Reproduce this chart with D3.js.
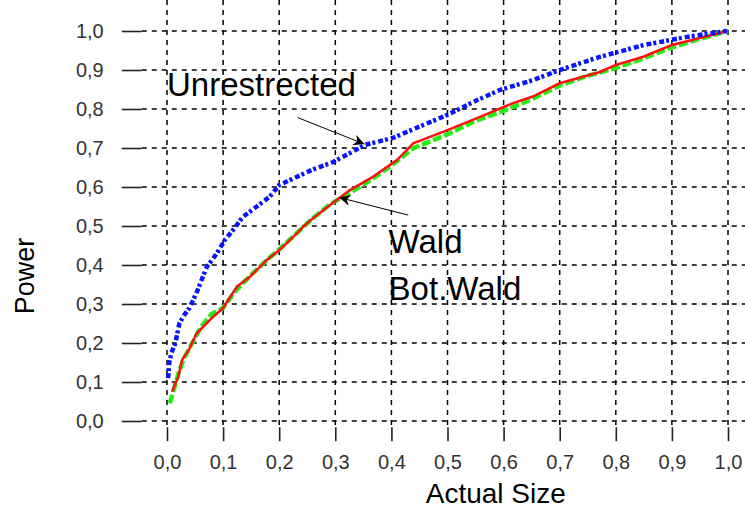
<!DOCTYPE html>
<html>
<head>
<meta charset="utf-8">
<script src="https://cdn.jsdelivr.net/npm/d3@7"></script>
<style>
body { margin: 0; background: #fff; }
text { font-family: "Liberation Sans", Arial, sans-serif; }
</style>
</head>
<body>
<div id="chart"></div>
<script>
// values
var ticks = [0, 0.1, 0.2, 0.3, 0.4, 0.5, 0.6, 0.7, 0.8, 0.9, 1.0];
var tickLabels = ["0,0", "0,1", "0,2", "0,3", "0,4", "0,5", "0,6", "0,7", "0,8", "0,9", "1,0"];

var unrestrictedX = [0.002, 0.004, 0.008, 0.015, 0.022, 0.03, 0.04, 0.053, 0.064, 0.071, 0.089, 0.103, 0.118, 0.135, 0.16, 0.183, 0.2, 0.23, 0.26, 0.296, 0.33, 0.353, 0.403, 0.45, 0.5, 0.553, 0.594, 0.652, 0.7, 0.77, 0.85, 0.927, 0.998];
var unrestrictedY = [0.11, 0.15, 0.175, 0.2, 0.25, 0.27, 0.29, 0.33, 0.37, 0.395, 0.43, 0.464, 0.49, 0.523, 0.55, 0.575, 0.605, 0.625, 0.645, 0.664, 0.69, 0.708, 0.726, 0.755, 0.785, 0.823, 0.849, 0.874, 0.9, 0.933, 0.964, 0.985, 1.0];

var waldX = [0.009, 0.02, 0.027, 0.038, 0.053, 0.077, 0.1, 0.125, 0.148, 0.178, 0.2, 0.225, 0.25, 0.278, 0.303, 0.326, 0.367, 0.41, 0.439, 0.5, 0.558, 0.617, 0.652, 0.7, 0.772, 0.8, 0.849, 0.9, 0.95, 1.0];
var waldY = [0.075, 0.113, 0.157, 0.18, 0.225, 0.26, 0.29, 0.345, 0.37, 0.413, 0.438, 0.472, 0.508, 0.54, 0.567, 0.592, 0.626, 0.669, 0.712, 0.746, 0.78, 0.815, 0.832, 0.866, 0.895, 0.913, 0.934, 0.964, 0.982, 1.0];

var botWaldX = [0.005, 0.012, 0.02, 0.03, 0.045, 0.06, 0.08, 0.1, 0.12, 0.15, 0.18, 0.2, 0.23, 0.26, 0.29, 0.32, 0.36, 0.4, 0.44, 0.5, 0.55, 0.6, 0.65, 0.7, 0.75, 0.8, 0.85, 0.9, 0.95, 1.0];
var botWaldY = [0.045, 0.08, 0.12, 0.16, 0.2, 0.24, 0.275, 0.29, 0.33, 0.375, 0.415, 0.44, 0.48, 0.52, 0.555, 0.58, 0.615, 0.655, 0.7, 0.735, 0.77, 0.795, 0.825, 0.86, 0.885, 0.905, 0.93, 0.958, 0.98, 1.0];

var svg = d3.select("#chart").append("svg")
    .attr("width", 745)
    .attr("height", 509);

var x = d3.scaleLinear().domain([0, 1]).range([167, 728]);
var y = d3.scaleLinear().domain([0, 1]).range([421, 31]);

var left = x(-0.045), right = 745, top = y(1.047), bottom = y(-0.016);

// grid
var grid = svg.append("g")
    .attr("stroke", "#000")
    .attr("stroke-width", 1.5)
    .attr("stroke-dasharray", "5,5");
grid.selectAll("line.v").data(ticks).enter().append("line")
    .attr("x1", function(d) { return x(d); })
    .attr("x2", function(d) { return x(d); })
    .attr("y1", top).attr("y2", bottom);
grid.selectAll("line.h").data(ticks).enter().append("line")
    .attr("x1", left).attr("x2", right)
    .attr("y1", function(d) { return y(d); })
    .attr("y2", function(d) { return y(d); });

// axes
var yAxis = d3.axisLeft(y).tickValues(ticks)
    .tickFormat(function(d, i) { return tickLabels[i]; })
    .tickSize(20).tickPadding(18);
var yMinor = d3.axisLeft(y).tickValues(d3.range(-0.0, 1.041, 0.02)).tickFormat("").tickSize(9);
var xAxis = d3.axisBottom(x).tickValues(ticks)
    .tickFormat(function(d, i) { return tickLabels[i]; })
    .tickSize(14).tickPadding(14);
var xMinor = d3.axisBottom(x).tickValues(d3.range(-0.02, 1.03, 0.02)).tickFormat("").tickSize(7);

var gy = svg.append("g").attr("transform", "translate(" + left + ",0)");
gy.call(yMinor);
gy.call(yAxis);
var gx = svg.append("g").attr("transform", "translate(0," + bottom + ")");
gx.call(xMinor);
gx.call(xAxis);

svg.selectAll(".domain").remove();
svg.selectAll(".tick line").attr("stroke", "#222").attr("stroke-width", 1.6);
svg.selectAll(".tick text")
    .attr("font-family", "'Liberation Sans', Arial, sans-serif")
    .attr("font-size", 20)
    .attr("fill", "#333");

// frame
svg.append("path")
    .attr("d", "M" + right + "," + top + "H" + left + "V" + bottom + "H" + right)
    .attr("fill", "none")
    .attr("stroke", "#222")
    .attr("stroke-width", 2);

// curves
var line = d3.line()
    .x(function(d) { return x(d[0]); })
    .y(function(d) { return y(d[1]); });

svg.append("path")
    .datum(d3.zip(botWaldX, botWaldY))
    .attr("d", line)
    .attr("fill", "none")
    .attr("stroke", "#22ee11")
    .attr("stroke-width", 4.5)
    .attr("stroke-dasharray", "9,3");

svg.append("path")
    .datum(d3.zip(waldX, waldY))
    .attr("d", line)
    .attr("fill", "none")
    .attr("stroke", "#ff1010")
    .attr("stroke-width", 2.5);

svg.append("path")
    .datum(d3.zip(unrestrictedX, unrestrictedY))
    .attr("d", line)
    .attr("fill", "none")
    .attr("stroke", "#0a14ff")
    .attr("stroke-width", 4.5)
    .attr("stroke-dasharray", "5,2,3,3");

// annotations
svg.append("defs").append("marker")
    .attr("id", "arr")
    .attr("viewBox", "0 0 10 10")
    .attr("refX", 10).attr("refY", 5)
    .attr("markerWidth", 18).attr("markerHeight", 11)
    .attr("markerUnits", "userSpaceOnUse")
    .attr("orient", "auto")
    .append("path").attr("d", "M0,0L10,5L0,10L3,5Z").attr("fill", "#000");

svg.append("line")
    .attr("x1", x(0.233)).attr("y1", y(0.778))
    .attr("x2", x(0.352)).attr("y2", y(0.71))
    .attr("stroke", "#000").attr("stroke-width", 1)
    .attr("marker-end", "url(#arr)");
svg.append("line")
    .attr("x1", x(0.43)).attr("y1", y(0.528))
    .attr("x2", x(0.307)).attr("y2", y(0.573))
    .attr("stroke", "#000").attr("stroke-width", 1)
    .attr("marker-end", "url(#arr)");

svg.append("text").attr("x", x(0)).attr("y", y(0.833))
    .attr("font-size", 33).text("Unrestrected");
svg.append("text").attr("x", x(0.395)).attr("y", y(0.431))
    .attr("font-size", 33).text("Wald");
svg.append("text").attr("x", x(0.395)).attr("y", y(0.31))
    .attr("font-size", 33).text("Bot.Wald");

// axis titles
svg.append("text")
    .attr("x", x(0.586)).attr("y", 503)
    .attr("text-anchor", "middle")
    .attr("font-size", 28)
    .text("Actual Size");
svg.append("text")
    .attr("transform", "translate(34," + y(0.372) + ") rotate(-90)")
    .attr("text-anchor", "middle")
    .attr("font-size", 27)
    .text("Power");
</script>
</body>
</html>
